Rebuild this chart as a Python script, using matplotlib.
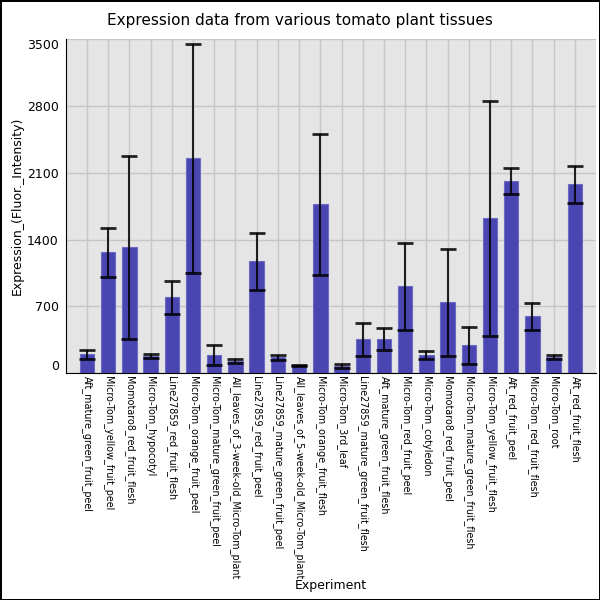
import matplotlib
matplotlib.use('Agg')
import matplotlib.pyplot as plt

experiments = ['Aft_mature_green_fruit_peel', 'Micro-Tom_yellow_fruit_peel',
               'Momotaro8_red_fruit_flesh', 'Micro-Tom_hypocotyl',
               'Line27859_red_fruit_flesh', 'Micro-Tom_orange_fruit_peel',
               'Micro-Tom_mature_green_fruit_peel', 'All_leaves_of_3-week-old_Micro-Tom_plant',
               'Line27859_red_fruit_peel', 'Line27859_mature_green_fruit_peel',
               'All_leaves_of_5-week-old_Micro-Tom_plant', 'Micro-Tom_orange_fruit_flesh',
               'Micro-Tom_3rd_leaf', 'Line27859_mature_green_fruit_flesh',
               'Aft_mature_green_fruit_flesh', 'Micro-Tom_red_fruit_peel',
               'Micro-Tom_cotyledon', 'Momotaro8_red_fruit_peel',
               'Micro-Tom_mature_green_fruit_flesh', 'Micro-Tom_yellow_fruit_flesh',
               'Aft_red_fruit_peel', 'Micro-Tom_red_fruit_flesh',
               'Micro-Tom_root', 'Aft_red_fruit_flesh']
expression = [197, 1266, 1318, 176, 794, 2251, 190, 124, 1171, 165, 85, 1769,
              75, 355, 355, 910, 190, 743, 291, 1622, 2010, 595, 166, 1979]
errors = [45, 256, 959, 21, 175, 1200, 102, 21, 302, 30, 6, 737,
          17, 171, 115, 454, 40, 560, 190, 1231, 138, 138, 22, 196]
yticks = [0, 700, 1400, 2100, 2800, 3500]

fig = plt.figure(figsize=(6, 6), dpi=100)
fig.patch.set_edgecolor('black')
fig.patch.set_linewidth(1)
ax = fig.add_axes([0.1095, 0.378, 0.884, 0.557])
ax.set_facecolor('#e5e5e5')
ax.set_axisbelow(True)
ax.grid(True, color='#c6c6c6', linewidth=1)

x = list(range(len(experiments)))
ax.bar(x, expression, width=0.68, color='#4a46b1', edgecolor='#6d6ac4', linewidth=0.8)
ax.errorbar(x, expression, yerr=errors, fmt='none', ecolor='black', elinewidth=1.5,
            capsize=5.5, capthick=2, alpha=0.85)

ax.set_xlim(-1, len(experiments))
ax.set_ylim(0, 3500)
ax.set_yticks(yticks)
ax.set_xticks(x)
ax.set_xticklabels(experiments, rotation=270, fontsize=6.9)
ax.tick_params(axis='y', labelsize=9, length=0, pad=5)
ax.tick_params(axis='x', length=0, pad=2)
labels = ax.get_yticklabels()
labels[0].set_verticalalignment('bottom')
labels[-1].set_verticalalignment('top')
for s in ['top', 'right']:
    ax.spines[s].set_visible(False)

fig.text(0.5, 0.966, 'Expression data from various tomato plant tissues',
         fontsize=11, ha='center', va='center')
ax.set_ylabel('Expression_(Fluor._Intensity)', fontsize=9, labelpad=2)
ax.set_xlabel('Experiment', fontsize=9, labelpad=0)

fig.savefig('out.png', dpi=100, edgecolor=fig.get_edgecolor())
